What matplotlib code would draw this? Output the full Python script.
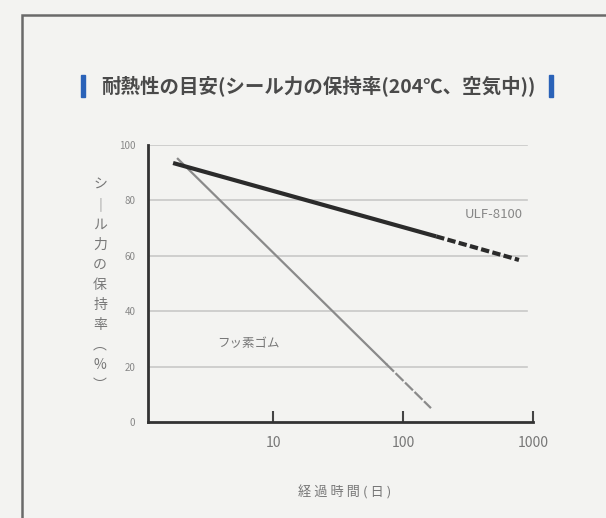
import matplotlib
matplotlib.use("Agg")
import matplotlib.pyplot as plt
from matplotlib.patches import Rectangle

plt.rcParams['font.family'] = ['Noto Sans CJK JP', 'DejaVu Sans']

# data
ulf_x_solid = [1.7, 180]
ulf_y_solid = [93.5, 67]
ulf_x_dash = [180, 780]
ulf_y_dash = [67, 58.5]
fkm_x_solid = [1.85, 74]
fkm_y_solid = [95, 21]
fkm_x_dash = [74, 164]
fkm_y_dash = [21, 5]
yticks = [0, 20, 40, 60, 80, 100]
xticks = [10, 100, 1000]

W, H = 606, 518
fig = plt.figure(figsize=(W / 100, H / 100), dpi=100)
fig.patch.set_facecolor('#f3f3f1')

# outer frame (only top/left visible in the crop)
fig.patches.append(Rectangle((22 / W, -0.1), 1.2, 1 - 15 / H + 0.1,
                             transform=fig.transFigure, fill=False,
                             edgecolor='#6a6a6a', lw=1.8))

ax = fig.add_axes([148 / W, 1 - 422 / H, (533 - 148) / W, (422 - 145) / H])
ax.set_facecolor('none')
ax.set_xscale('log')
ax.set_xlim(1.09, 1000)
ax.set_ylim(0, 100)

for v in yticks[1:]:
    ax.plot([1.09, 900], [v, v], color='#c8c8c8', lw=1.2, zorder=1)

ax.plot(ulf_x_solid, ulf_y_solid, color='#2b2b2b', lw=3, solid_capstyle='butt', zorder=3)
ax.plot(ulf_x_dash, ulf_y_dash, color='#2b2b2b', lw=3, ls=(0, (2, 0.8)), zorder=3)
ax.plot(fkm_x_solid, fkm_y_solid, color='#8a8a8a', lw=1.6, zorder=2)
ax.plot(fkm_x_dash, fkm_y_dash, color='#8a8a8a', lw=1.6, ls=(0, (5, 1)), zorder=2)

for s in ['top', 'right']:
    ax.spines[s].set_visible(False)
for s in ['left', 'bottom']:
    ax.spines[s].set_color('#333333')
    ax.spines[s].set_linewidth(2)

ax.set_xticks(xticks)
ax.set_xticklabels([str(t) for t in xticks])
ax.xaxis.set_minor_locator(matplotlib.ticker.NullLocator())
ax.tick_params(axis='x', direction='in', length=8, width=1.5, color='#444444',
               labelsize=10, labelcolor='#777777', pad=10)
ax.set_yticks(yticks)
ax.tick_params(axis='y', length=0, labelsize=7, labelcolor='#888888', pad=9)

ax.text(500, 75, 'ULF-8100', fontsize=9.5, color='#888888', ha='center', va='center')
ax.text(6.5, 28.5, 'フッ素ゴム', fontsize=9, color='#777777', ha='center', va='center')

# y label (vertical writing)
fig.text(100 / W, 1 - 285 / H, 'シ\n｜\nル\n力\nの\n保\n持\n率\n︵\n%\n︶',
         fontsize=10, color='#777777', ha='center', va='center', linespacing=1.55)
fig.text(345 / W, 1 - 492 / H, '経 過 時 間 ( 日 )', fontsize=9.5, color='#777777',
         ha='center', va='center')

# title with blue bars
fig.text(318 / W, 1 - 86 / H, '耐熱性の目安(シール力の保持率(204℃、空気中))',
         fontsize=14, fontweight='bold', color='#4a4a4a', ha='center', va='center')
for xb in [83, 551]:
    fig.patches.append(Rectangle(((xb - 2) / W, 1 - 97 / H), 4 / W, 22 / H,
                                 transform=fig.transFigure, color='#2a62b8'))

fig.savefig('out.png', dpi=100, facecolor=fig.get_facecolor())
